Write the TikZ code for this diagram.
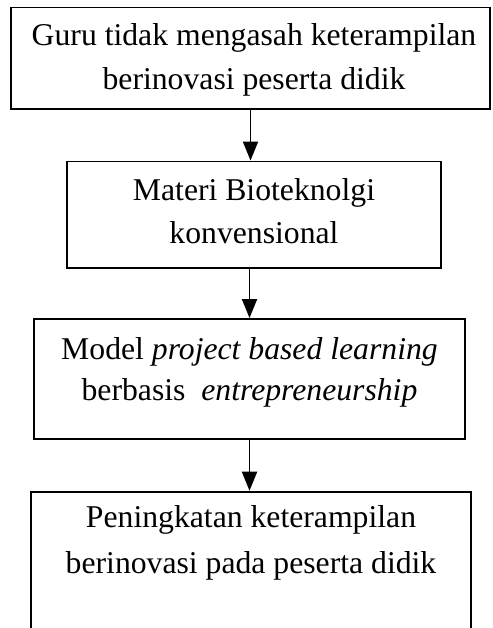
\documentclass[tikz,border=0pt]{standalone}
\usepackage{fontspec}
\setmainfont{Liberation Serif}
\usetikzlibrary{arrows.meta}
\newcommand{\mytxt}[2]{\parbox[t]{470pt}{\centering\fontsize{31.7}{#1}\selectfont #2}}
\begin{document}
\begin{tikzpicture}[x=1pt,y=1pt,
  box/.style={draw, line width=1.9pt, rectangle, inner sep=0pt},
  lbl/.style={anchor=base, inner sep=0pt},
  arr/.style={line width=1.9pt, -{Triangle[length=19pt,width=15pt]}}]
\clip (0,0) rectangle (492,628);
\node[box, minimum width=479pt, minimum height=101.5pt] (b1) at (250.5,569.75) {};
\node[box, minimum width=374pt, minimum height=106.5pt] (b2) at (254,413.25) {};
\node[box, minimum width=431pt, minimum height=120pt] (b3) at (249.5,249) {};
\node[box, minimum width=440pt, minimum height=160pt] (b4) at (251,56.3) {};
\node[lbl] (t1) at (254,582) {\mytxt{44}{Guru tidak mengasah keterampilan\\berinovasi peserta didik}};
\node[lbl] (t2) at (254,427) {\mytxt{42.3}{Materi Bioteknolgi\\konvensional}};
\node[lbl] (t3) at (249.5,268) {\mytxt{41}{Model \textit{project based learning}\\berbasis\hspace{0.5em}\textit{entrepreneurship}}};
\node[lbl] (t4) at (251,100) {\mytxt{46}{Peningkatan keterampilan\\berinovasi pada peserta didik}};
\draw[arr] (b1.south) -- (b1.south |- b2.north);
\draw[arr] (b2.south -| b3.north) -- (b3.north);
\draw[arr] (b3.south) -- (b3.south |- b4.north);
\end{tikzpicture}
\end{document}
